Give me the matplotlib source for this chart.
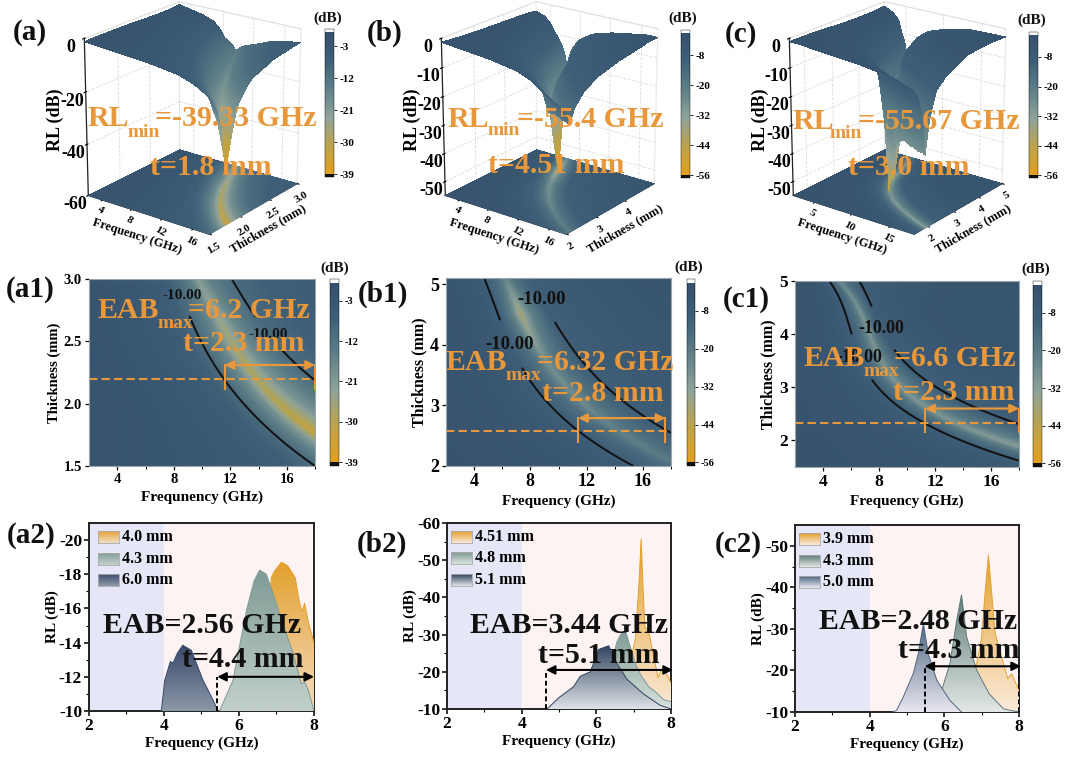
import numpy as np
import matplotlib
matplotlib.use("Agg")
import matplotlib.pyplot as plt
from matplotlib.colors import LinearSegmentedColormap, Normalize, to_rgb

plt.rcParams['font.family'] = ['Liberation Serif', 'DejaVu Serif']
plt.rcParams['font.weight'] = 'bold'
plt.rcParams['axes.labelweight'] = 'bold'
plt.rcParams['axes.unicode_minus'] = False
plt.rcParams['contour.negative_linestyle'] = 'solid'
plt.rcParams['grid.color'] = '#dcdcdc'
plt.rcParams['grid.linewidth'] = 0.6
plt.rcParams['grid.linestyle'] = '--'

W, H = 1070, 760
ORANGE = '#e8983a'

# ridge tables: thickness row, -10 dB edge left, ridge, -10 dB edge right
a_t = [3.0, 2.73, 2.44, 2.19, 1.96, 1.77, 1.5]
a_left = [8.2, 9.0, 10.3, 11.5, 13.3, 15.0, 18.0]
a_ridge = [9.7, 11.0, 12.4, 14.0, 15.8, 18.0, 22.0]
a_right = [12.1, 13.6, 15.5, 18.0, 21.0, 24.0, 30.0]
a_map_depth = [-22, -25, -28, -29, -31, -33, -33]
a_surf_depth = [-14, -17, -20, -23, -28, -39, -34]

b_t = [5.1, 4.51, 3.8, 3.05, 2.6, 2.0]
b_left = [4.7, 5.7, 7.0, 9.1, 11.4, 15.3]
b_ridge = [6.2, 7.4, 9.0, 11.4, 14.5, 18.7]
b_right = [8.0, 9.2, 11.5, 15.0, 17.2, 23.0]
b_map_depth = [-25, -40, -28, -26, -23, -20]
b_surf_depth = [-20, -56, -28, -24, -20, -18]

c_t = [5.0, 4.42, 3.8, 3.2, 2.7, 2.3, 1.9, 1.5]
c_left = [4.6, 5.3, 6.2, 7.6, 9.2, 11.8, 13.9, 20.0]
c_ridge = [5.3, 6.4, 7.6, 9.2, 11.3, 13.7, 17.3, 24.0]
c_right = [6.5, 7.7, 9.1, 10.9, 13.5, 18.3, 24.0, 30.0]
c_map_depth = [-26, -30, -30, -30, -30, -30, -32, -30]
c_surf_depth = [-18, -22, -26, -30, -30, -30, -30, -28]
c_spike_t = [3.6, 3.45, 3.3, 3.2, 3.1, 3.0, 2.9, 2.82, 2.72, 2.62, 2.5]
c_spike_rl = [-46, -34, -50, -38, -53, -55.7, -40, -52, -36, -48, -34]

# how RL falls away from the ridge, d=1 is the -10 dB edge
inner_d = [0, 0.12, 0.35, 0.7, 1]
inner_w = [1, 0.8, 0.45, 0.18, 0]
left_d = [1, 1.5, 2, 3, 5, 8, 30]
left_rl = [-10, -6.5, -4.6, -3, -1.2, -0.5, -0.2]
right_d = [1, 2, 3.5, 6, 20]
right_rl = [-10, -7, -5, -3, -2]

# line panels, frequency then RL
a2_f1 = [6.1, 6.5, 6.8, 6.86, 6.95, 7.13, 7.3, 7.5, 7.6, 7.68, 7.75, 7.85, 8.0]
a2_r1 = [-10, -12, -15.5, -17.8, -18.2, -18.7, -18.5, -17.8, -16.5, -15.8, -16.3, -15.2, -14]
a2_f2 = [5.48, 5.84, 6.2, 6.4, 6.55, 6.73, 6.95, 7.17, 7.44, 7.66, 7.75, 7.85, 8.0]
a2_r2 = [-10, -11.8, -15.9, -17.6, -18.25, -18, -16.6, -15.1, -13.4, -11.6, -11.7, -11.2, -10]
a2_f3 = [3.93, 4.02, 4.17, 4.24, 4.36, 4.5, 4.73, 5.04, 5.25, 5.4]
a2_r3 = [-10, -11.8, -12.9, -12.8, -13.4, -13.85, -13.55, -11.8, -10.9, -10.2]

b2_f1 = [6.2, 6.7, 6.9, 7.05, 7.15, 7.2, 7.25, 7.3, 7.4, 7.5, 7.65, 7.72, 7.8, 8.0]
b2_r1 = [-10, -18, -22, -29, -45, -55.7, -43, -32, -31, -26, -18.5, -20, -21, -17]
b2_f2 = [5.3, 5.6, 6.0, 6.4, 6.55, 6.65, 6.78, 6.9, 7.05, 7.2, 7.4, 7.6, 7.8, 8.0]
b2_r2 = [-10, -11, -15, -22, -28, -30, -31, -27, -22, -19, -16, -14.5, -12.5, -12]
b2_f3 = [4.68, 4.99, 5.39, 5.57, 5.84, 6.06, 6.33, 6.55, 6.82, 7.27, 7.71, 8.0]
b2_r3 = [-10, -13, -16, -18.8, -20, -26, -27, -22.3, -18, -14, -11, -10]

c2_f1 = [6.2, 6.7, 6.87, 7.0, 7.09, 7.18, 7.27, 7.36, 7.58, 7.7, 7.8, 8.0]
c2_r1 = [-10, -16, -21.7, -28, -38.5, -47.8, -38.5, -29, -21.7, -18, -19.2, -15.2]
c2_f2 = [5.6, 5.93, 6.15, 6.33, 6.46, 6.6, 6.87, 7.2, 7.58, 7.76, 8.0]
c2_r2 = [-10, -15.2, -21.7, -32, -38.2, -28, -20, -14.4, -10.8, -10.4, -10]
c2_f3 = [4.62, 4.72, 4.9, 5.17, 5.3, 5.44, 5.57, 5.8, 6.15, 6.46]
c2_r3 = [-10, -10.4, -13.6, -19.3, -24, -31.3, -24, -17.6, -12.8, -10]

cmap = LinearSegmentedColormap.from_list(
    'rl', ['#e3a01e', '#bda34a', '#8fa39a', '#5f8088', '#3f5f78', '#35506c'])
cmap.set_under('#111111')
cmap.set_over('#ffffff')


def rect(x0, y0, x1, y1):
    # pixel box, y from the top, to figure fractions
    return [x0 / W, 1 - y1 / H, (x1 - x0) / W, (y1 - y0) / H]


def txt(x, y, s, size=21.5, color=ORANGE, **kw):
    fig.text(x / W, 1 - y / H, s, fontsize=size, color=color, fontweight='bold',
             va='baseline', zorder=20, **kw)


def rl_grid(ts, left, ridge, right, depth_t, depth, flim, tlim, n=170):
    f = np.linspace(flim[0], flim[1], n)
    t = np.linspace(tlim[0], tlim[1], n)
    L = np.polyval(np.polyfit(ts, left, 3), t)
    R = np.polyval(np.polyfit(ts, ridge, 3), t)
    E = np.polyval(np.polyfit(ts, right, 3), t)
    dp = np.interp(t, depth_t[::-1], depth[::-1])
    F, T = np.meshgrid(f, t)
    Z = np.zeros_like(F)
    for i in range(n):
        dl = (R[i] - f) / (R[i] - L[i])
        dr = (f - R[i]) / (E[i] - R[i])
        d = np.where(f < R[i], dl, dr)
        inner = -10 + (dp[i] + 10) * np.interp(d, inner_d, inner_w)
        outer = np.where(f < R[i], np.interp(d, left_d, left_rl), np.interp(d, right_d, right_rl))
        Z[i] = np.where(d < 1, inner, outer)
    return F, T, Z


def colorbar(mappable, box, ticks, size=8):
    cax = fig.add_axes(rect(*box))
    cb = fig.colorbar(mappable, cax=cax, extend='both', extendrect=True, extendfrac=0.02)
    cb.set_ticks(ticks)
    cb.ax.tick_params(labelsize=size, length=2, width=0.6, pad=2)
    cb.outline.set_linewidth(0.3)
    for lab in cb.ax.get_yticklabels():
        lab.set_fontweight('bold')


def panel3d(box, view, table, depth_t, depth, flim, tlim, zlim, norm, zticks, xticks, yticks, ylabs):
    ax = fig.add_axes(rect(*box), projection='3d', computed_zorder=False)
    ax.patch.set_alpha(0)
    ts, left, ridge, right, map_depth = table
    F, T, Zmap = rl_grid(ts, left, ridge, right, ts, map_depth, flim, tlim)
    F, T, Z = rl_grid(ts, left, ridge, right, depth_t, depth, flim, tlim)
    ax.plot_surface(F, T, np.full_like(Zmap, zlim[0]), facecolors=cmap(norm(Zmap)), rstride=1, cstride=1,
                    shade=False, linewidth=0, antialiased=False, zorder=1)
    ax.plot_surface(F, T, Z, facecolors=cmap(norm(Z)), rstride=1, cstride=1,
                    shade=False, linewidth=0, antialiased=False, zorder=2)
    ax.set_xlim(flim)
    ax.set_ylim(tlim)
    ax.set_zlim(zlim)
    ax.set_xticks(xticks)
    ax.set_yticks(yticks)
    ax.set_yticklabels(ylabs)
    ax.set_zticks(zticks)
    ax.set_proj_type('persp', focal_length=1.0)
    ax.view_init(elev=view[0], azim=view[1])
    ax.set_box_aspect((1, 1, view[2]), zoom=view[3])
    for axis in (ax.xaxis, ax.yaxis, ax.zaxis):
        axis.pane.set_facecolor((1, 1, 1, 1))
        axis.pane.set_edgecolor('#d8d8d8')
        axis.line.set_color('#222222')
        axis.line.set_linewidth(0.9)
    ax.zaxis.set_ticks_position('lower')
    ax.zaxis.set_label_position('lower')
    ax.tick_params(axis='x', labelsize=8, pad=-5, labelrotation=-30)
    ax.tick_params(axis='y', labelsize=8, pad=-4, labelrotation=30)
    ax.tick_params(axis='z', labelsize=13, pad=-1)
    ax.set_xlabel('Frequency (GHz)', fontsize=9, labelpad=-9)
    ax.set_ylabel('Thickness (mm)', fontsize=9, labelpad=-9)
    ax.zaxis.set_rotate_label(False)
    ax.set_zlabel('RL (dB)', fontsize=13, labelpad=-5, rotation=90)
    return ax


def panelmap(box, table, flim, tlim, norm, tticks, tlabs, tick_size, xlabel, ylabel_size, dash_t, br, labels):
    ax = fig.add_axes(rect(*box))
    ts, left, ridge, right, map_depth = table
    F, T, Z = rl_grid(ts, left, ridge, right, ts, map_depth, flim, tlim, n=300)
    im = ax.pcolormesh(F, T, Z, cmap=cmap, norm=norm, shading='gouraud', rasterized=True)
    cs = ax.contour(F, T, Z, levels=[-10], colors='#111111', linewidths=1.4)
    cl = ax.clabel(cs, fmt='%.2f', fontsize=tick_size + 0.5, manual=labels, inline_spacing=2)
    for c in cl:
        c.set_fontweight('bold')
        c.set_rotation(0)
    ax.axhline(dash_t, color=ORANGE, lw=1.5, ls=(0, (4, 2)))
    ax.plot([br[0], br[0]], [br[2], br[3]], color=ORANGE, lw=1.5)
    ax.plot([br[1], br[1]], [br[2], br[3]], color=ORANGE, lw=1.5)
    ax.annotate('', xy=(br[1], br[3]), xytext=(br[0], br[3]),
                arrowprops=dict(arrowstyle='<|-|>', color=ORANGE, lw=1.6, shrinkA=0, shrinkB=0, mutation_scale=13))
    ax.set_xlim(flim)
    ax.set_ylim(tlim)
    ax.set_xticks([4, 8, 12, 16])
    ax.set_xticks([6, 10, 14, 18], minor=True)
    ax.set_yticks(tticks)
    ax.set_yticklabels(tlabs)
    ax.tick_params(labelsize=tick_size, length=3, width=0.9, pad=2)
    ax.tick_params(which='minor', length=2, width=0.7)
    for s in ax.spines.values():
        s.set_color('#9aa4ad')
        s.set_linewidth(0.8)
    ax.set_xlabel(xlabel, fontsize=11, labelpad=3)
    ax.set_ylabel('Thickness (mm)', fontsize=ylabel_size, labelpad=2)
    return im


def gradient_fill(ax, f, r, color, pale, ylim):
    top = min(r)
    base = np.linspace(0, 1, 128)[:, None]
    c0, c1 = np.array(to_rgb(color)), np.array(to_rgb(pale))
    img = (c0 * (1 - base)[..., None] + c1 * base[..., None])
    poly = ax.fill_between(f, r, ylim[0], facecolor='none', edgecolor='none')
    im = ax.imshow(img, extent=[2, 8, ylim[0], top], origin='upper', aspect='auto', zorder=3)
    im.set_clip_path(poly.get_paths()[0], transform=ax.transData)
    ax.plot(f, r, color=color, lw=0.7, zorder=3)


def swatch(ax, x0, x1, y0, y1, color, pale):
    sub = ax.inset_axes([x0, y0, x1 - x0, y1 - y0])
    base = np.linspace(0, 1, 32)[:, None]
    c0, c1 = np.array(to_rgb(color)), np.array(to_rgb(pale))
    sub.imshow(c0 * (1 - base)[..., None] + c1 * base[..., None], aspect='auto')
    sub.set_xticks([])
    sub.set_yticks([])
    for s in sub.spines.values():
        s.set_color('#aaaaaa')
        s.set_linewidth(0.6)


def panelline(box, series, ylim, yticks, minor, labels, swatch_x, arrow, dashes):
    ax = fig.add_axes(rect(*box))
    ax.axvspan(2, 4, color='#e6e7f6', lw=0, zorder=0)
    ax.axvspan(4, 8, color='#fdf3f3', lw=0, zorder=0)
    for (f, r, color, pale) in series:
        gradient_fill(ax, f, r, color, pale, ylim)
    ax.set_xlim(2, 8)
    ax.set_ylim(ylim)
    ax.set_xticks([2, 4, 6, 8])
    ax.set_xticks([3, 5, 7], minor=True)
    ax.set_yticks(yticks)
    ax.set_yticks(minor, minor=True)
    ax.tick_params(labelsize=12.5, length=3.5, width=1.1, pad=1.5)
    ax.tick_params(which='minor', length=2, width=0.8)
    for s in ax.spines.values():
        s.set_color('#222222')
        s.set_linewidth(1.4)
    ax.set_xlabel('Frequency (GHz)', fontsize=11, labelpad=2)
    ax.set_ylabel('RL (dB)', fontsize=11, labelpad=0)
    for i, lab in enumerate(labels):
        yc = 0.925 - i * 0.115
        swatch(ax, swatch_x, swatch_x + 0.093, yc - 0.032, yc + 0.032, series[i][2], series[i][3])
        ax.text(swatch_x + 0.107, yc, lab, transform=ax.transAxes, fontsize=11.5, va='center', zorder=6)
    for xd in dashes:
        ax.plot([xd, xd], [ylim[0], arrow[2]], color='black', lw=1.4, ls=(0, (2.5, 1.5)), zorder=5)
    ax.annotate('', xy=(arrow[1], arrow[2]), xytext=(arrow[0], arrow[2]), zorder=6, annotation_clip=False,
                arrowprops=dict(arrowstyle='<|-|>', color='black', lw=1.5, shrinkA=0, shrinkB=0, mutation_scale=13))
    return ax


fig = plt.figure(figsize=(W / 100, H / 100), dpi=100)

a_table = (a_t, a_left, a_ridge, a_right, a_map_depth)
b_table = (b_t, b_left, b_ridge, b_right, b_map_depth)
c_table = (c_t, c_left, c_ridge, c_right, c_map_depth)

a_norm = Normalize(-39, 1)
bc_norm = Normalize(-56, 1)

view = (21, -53, 1.1, 0.88)

# top row, 3D
panel3d((27, -33, 352, 267), view, a_table, a_t, a_surf_depth, (2, 18), (1.5, 3.0), (-60, 0),
        a_norm, [0, -20, -40, -60], [4, 8, 12, 16], [1.5, 2.0, 2.5, 3.0], ['1.5', '2.0', '2.5', '3.0'])
panel3d((384, -33, 709, 267), view, b_table, b_t, b_surf_depth, (2, 18), (2, 5.1), (-55, 0),
        bc_norm, [0, -10, -20, -30, -40, -50], [4, 8, 12, 16], [2, 3, 4], ['2', '3', '4'])
c_dep_t = sorted(c_t + c_spike_t, reverse=True)
c_dep = [dict(zip(c_t + c_spike_t, c_surf_depth + c_spike_rl))[v] for v in c_dep_t]
panel3d((732, -33, 1057, 267), view, c_table, c_dep_t, c_dep, (2, 18), (1.5, 5.0), (-55, 0),
        bc_norm, [0, -10, -20, -30, -40, -50], [5, 10, 15], [2, 3, 4, 5], ['2', '3', '4', '5'])

sm_a = plt.cm.ScalarMappable(norm=a_norm, cmap=cmap)
sm_bc = plt.cm.ScalarMappable(norm=bc_norm, cmap=cmap)
colorbar(sm_a, (325, 29, 334, 177), [-3, -12, -21, -30, -39])
colorbar(sm_bc, (681, 30, 690, 178), [-8, -20, -32, -44, -56])
colorbar(sm_bc, (1029, 32, 1038, 178), [-8, -20, -32, -44, -56])

# middle row, maps
im_a = panelmap((89, 279, 315, 466), a_table, (2, 18), (1.5, 3.0), a_norm, [1.5, 2.0, 2.5, 3.0],
                ['1.5', '2.0', '2.5', '3.0'], 10.5, 'Frequnency (GHz)', 10.5, 2.2,
                (11.6, 18, 2.12, 2.31), [(8.65, 2.87), (14.6, 2.55)])
im_b = panelmap((446, 278, 671, 466), b_table, (2, 18), (2, 5.1), bc_norm, [2, 3, 4, 5],
                ['2', '3', '4', '5'], 13, 'Frequency (GHz)', 11.5, 2.57,
                (11.4, 17.6, 2.4, 2.79), [(8.9, 4.75), (6.5, 4.0)])
im_c = panelmap((795, 281, 1019, 467), c_table, (2, 18), (1.5, 5.0), bc_norm, [2, 3, 4, 5],
                ['2', '3', '4', '5'], 12.5, 'Frequency (GHz)', 11.5, 2.32,
                (11.3, 18, 2.15, 2.6), [(8.4, 4.12), (6.6, 3.55)])
colorbar(sm_a, (330, 279, 339, 466), [-3, -12, -21, -30, -39], size=7.5)
colorbar(sm_bc, (687, 279, 695, 466), [-8, -20, -32, -44, -56], size=7.5)
colorbar(sm_bc, (1033, 281, 1042, 467), [-8, -20, -32, -44, -56], size=7.5)

# bottom row, RL curves
panelline((89, 523, 314, 711),
          [(a2_f1, a2_r1, '#e3a12e', '#f4dcc0'), (a2_f2, a2_r2, '#7f9b95', '#c3d0cb'), (a2_f3, a2_r3, '#38496a', '#8d98a8')],
          (-10, -21), [-10, -12, -14, -16, -18, -20], [-11, -13, -15, -17, -19],
          ['4.0 mm', '4.3 mm', '6.0 mm'], 0.04, (5.42, 8.0, -12), [5.42])
panelline((447, 523, 671, 709),
          [(b2_f1, b2_r1, '#e3a12e', '#fae8d6'), (b2_f2, b2_r2, '#7f9b95', '#d8e2de'), (b2_f3, b2_r3, '#2f4460', '#dfe2e6')],
          (-10, -60), [-10, -20, -30, -40, -50, -60], [-15, -25, -35, -45, -55],
          ['4.51 mm', '4.8 mm', '5.1 mm'], 0.02, (4.65, 8.05, -20.5), [4.65])
panelline((795, 525, 1019, 712),
          [(c2_f1, c2_r1, '#e3a12e', '#fbeadb'), (c2_f2, c2_r2, '#5f7a78', '#e2e8e6'), (c2_f3, c2_r3, '#4f6680', '#e8e6f0')],
          (-10, -55), [-10, -20, -30, -40, -50], [-15, -25, -35, -45],
          ['3.9 mm', '4.3 mm', '5.0 mm'], 0.02, (5.47, 8.05, -21), [5.47, 8.0])

# overlay text
for x, y, s in [(87, 126, 'RL'), (447, 127, 'RL'), (792, 129, 'RL'),
                (155, 126, '=-39.33 GHz'), (517, 127, '=-55.4 GHz'), (858, 129, '=-55.67 GHz'),
                (150, 175, 't=1.8 mm'), (488, 173, 't=4.51 mm'), (848, 175, 't=3.0 mm'),
                (97, 318, 'EAB'), (446, 370, 'EAB'), (803, 366, 'EAB'),
                (188, 318, '=6.2 GHz'), (537, 370, '=6.32 GHz'), (894, 366, '=6.6 GHz'),
                (183, 351, 't=2.3 mm'), (542, 401, 't=2.8 mm'), (893, 400, 't=2.3 mm')]:
    txt(x, y, s)
for x, y, s in [(127, 137, 'min'), (488, 135, 'min'), (829, 138, 'min'),
                (157, 328, 'max'), (505, 380, 'max'), (863, 376, 'max')]:
    txt(x, y, s, size=14)
for x, y, s in [(103, 633, 'EAB=2.56 GHz'), (182, 667, 't=4.4 mm'), (470, 633, 'EAB=3.44 GHz'),
                (538, 663, 't=5.1 mm'), (819, 629, 'EAB=2.48 GHz'), (898, 658, 't=4.3 mm')]:
    txt(x, y, s, color='#111111')
for x, y, s in [(13, 40, '(a)'), (367, 41, '(b)'), (725, 42, '(c)'), (6, 297, '(a1)'), (358, 302, '(b1)'),
                (723, 307, '(c1)'), (7, 543, '(a2)'), (357, 552, '(b2)'), (715, 552, '(c2)')]:
    txt(x, y, s, size=21, color='#111111')
for x, y in [(313, 22), (668, 22), (1017, 24), (320, 272), (674, 271), (1021, 273)]:
    txt(x, y, '(dB)', size=11, color='#111111')

fig.savefig('out.png', dpi=100)
